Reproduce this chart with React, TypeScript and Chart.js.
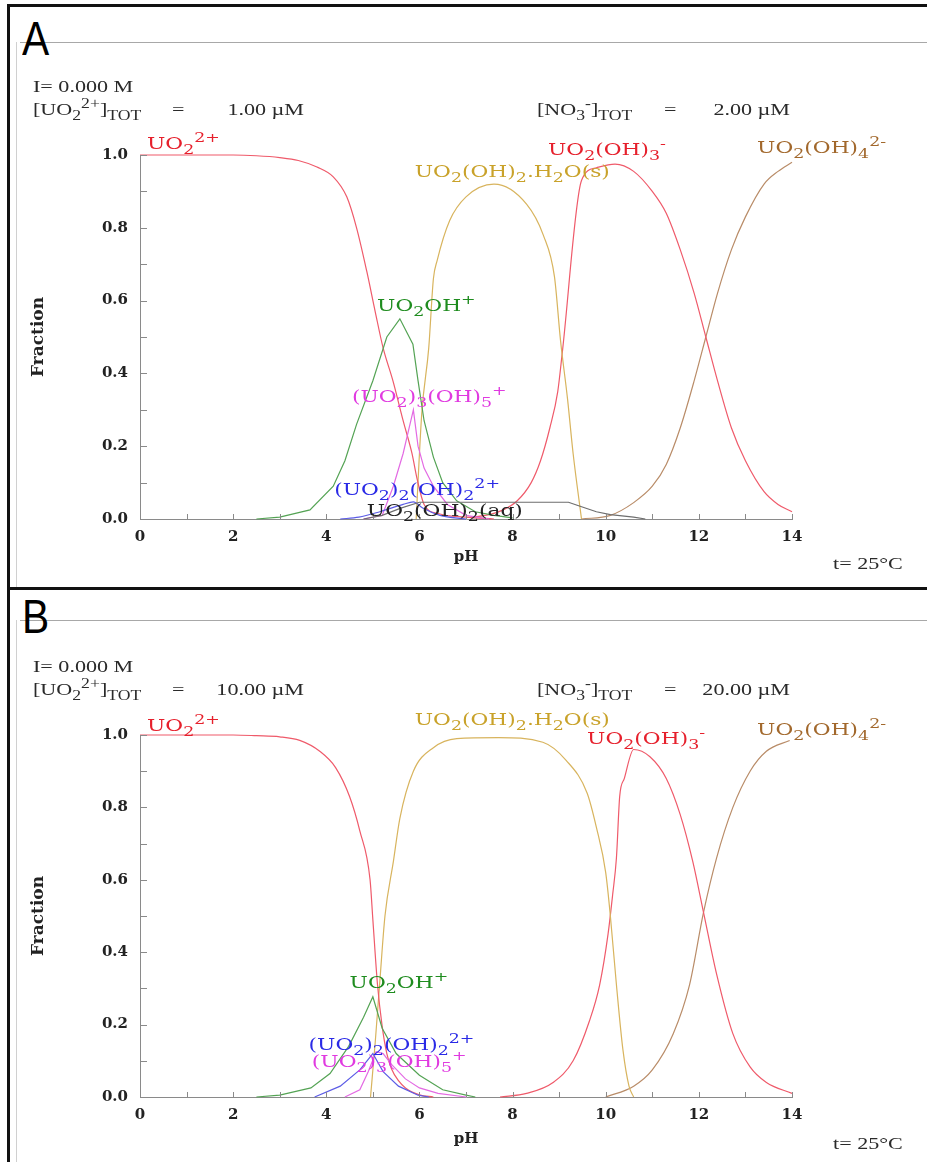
import React, { useEffect, useRef } from 'react';
import { Chart, registerables } from 'chart.js';
Chart.register(...registerables);

// ---------------- DATA (pH -> fraction) ----------------
// Panel A: [UO2]tot = 1 µM
const A_UO2_PH = [0, 1, 2, 2.5, 3, 3.4, 3.8, 4.15, 4.44, 4.65, 4.87, 5.05, 5.22, 5.43, 5.65, 5.84, 5.95, 6.1, 6.4, 7.0, 7.6];
const A_UO2_F = [1, 1, 1, 0.998, 0.993, 0.985, 0.967, 0.94, 0.885, 0.8, 0.68, 0.57, 0.47, 0.38, 0.27, 0.18, 0.11, 0.04, 0.015, 0.005, 0];
const A_OH_PH = [2.5, 3.0, 3.65, 4.15, 4.4, 4.65, 5.0, 5.3, 5.58, 5.86, 5.97, 6.1, 6.3, 6.5, 6.8, 7.2, 7.6, 8.0];
const A_OH_F = [0, 0.005, 0.025, 0.09, 0.16, 0.26, 0.38, 0.5, 0.55, 0.48, 0.38, 0.27, 0.17, 0.1, 0.05, 0.02, 0.01, 0.003];
const A_U3_PH = [4.8, 5.2, 5.44, 5.65, 5.76, 5.87, 5.97, 6.1, 6.3, 6.6, 7.0, 7.5];
const A_U3_F = [0, 0.01, 0.09, 0.18, 0.24, 0.3, 0.2, 0.14, 0.09, 0.04, 0.01, 0];
const A_U2_PH = [4.3, 4.7, 5.15, 5.65, 5.87, 6.07, 6.44, 7.0];
const A_U2_F = [0, 0.005, 0.02, 0.04, 0.047, 0.03, 0.01, 0];
const A_AQ_PH = [4.8, 5.2, 5.6, 6.0, 9.2, 9.45, 9.8, 10.1, 10.6, 10.85];
const A_AQ_F = [0, 0.01, 0.03, 0.046, 0.046, 0.035, 0.02, 0.012, 0.005, 0];
const A_S_PH = [5.93, 6.05, 6.2, 6.3, 6.38, 6.65, 7.0, 7.6, 8.3, 8.66, 8.9, 9.03, 9.18, 9.3, 9.48];
const A_S_F = [0, 0.29, 0.47, 0.66, 0.71, 0.82, 0.885, 0.92, 0.865, 0.78, 0.665, 0.49, 0.33, 0.18, 0];
const A_T3_PH = [7.0, 7.5, 7.8, 8.1, 8.4, 8.6, 8.8, 8.97, 9.07, 9.48, 9.8, 10.2, 10.6, 11.0, 11.3, 11.6, 11.9, 12.15, 12.4, 12.7, 13.0, 13.4, 13.7, 14.0];
const A_T3_F = [0.004, 0.012, 0.025, 0.05, 0.1, 0.16, 0.25, 0.35, 0.46, 0.93, 0.965, 0.975, 0.955, 0.9, 0.84, 0.74, 0.62, 0.5, 0.38, 0.25, 0.16, 0.075, 0.04, 0.02];
const A_T4_PH = [9.48, 10.1, 10.6, 11.0, 11.3, 11.6, 11.9, 12.15, 12.4, 12.7, 13.0, 13.4, 13.7, 14.0];
const A_T4_F = [0, 0.01, 0.045, 0.09, 0.15, 0.25, 0.38, 0.5, 0.62, 0.74, 0.83, 0.92, 0.955, 0.98];

// Panel B: [UO2]tot = 10 µM
const B_UO2_PH = [0, 1, 2, 2.5, 3, 3.43, 3.86, 4.2, 4.5, 4.72, 4.94, 5.0, 5.1, 5.2, 5.3, 5.4, 5.55, 5.7, 6.0, 6.3];
const B_UO2_F = [1, 1, 1, 0.998, 0.995, 0.985, 0.955, 0.91, 0.83, 0.735, 0.6, 0.49, 0.31, 0.195, 0.12, 0.078, 0.045, 0.025, 0.006, 0];
const B_OH_PH = [2.5, 3.0, 3.67, 4.08, 4.48, 4.8, 5.0, 5.2, 5.5, 6.0, 6.5, 7.0, 7.2];
const B_OH_F = [0, 0.005, 0.025, 0.065, 0.14, 0.22, 0.277, 0.19, 0.12, 0.06, 0.02, 0.005, 0];
const B_U2_PH = [3.75, 4.3, 4.72, 5.0, 5.22, 5.55, 5.97, 6.2];
const B_U2_F = [0, 0.03, 0.075, 0.12, 0.07, 0.03, 0.005, 0];
const B_U3_PH = [4.4, 4.72, 4.9, 5.07, 5.22, 5.4, 5.7, 6.0, 6.4, 7.0];
const B_U3_F = [0, 0.02, 0.07, 0.125, 0.12, 0.09, 0.05, 0.025, 0.01, 0];
const B_S_PH = [4.95, 5.05, 5.15, 5.26, 5.44, 5.58, 5.87, 6.3, 6.8, 7.7, 8.65, 9.15, 9.6, 9.8, 10.0, 10.1, 10.23, 10.37, 10.5, 10.6];
const B_S_F = [0, 0.15, 0.32, 0.5, 0.65, 0.77, 0.9, 0.965, 0.99, 0.993, 0.98, 0.93, 0.84, 0.745, 0.62, 0.5, 0.31, 0.13, 0.03, 0];
const B_T3_PH = [7.73, 8.3, 8.87, 9.3, 9.65, 9.87, 10.05, 10.15, 10.23, 10.3, 10.4, 10.6, 10.95, 11.3, 11.6, 11.87, 12.1, 12.38, 12.73, 13.1, 13.45, 14.0];
const B_T3_F = [0, 0.01, 0.04, 0.1, 0.21, 0.31, 0.45, 0.56, 0.66, 0.83, 0.88, 0.96, 0.94, 0.88, 0.78, 0.65, 0.51, 0.34, 0.175, 0.083, 0.04, 0.01];
const B_T4_PH = [10.0, 10.6, 11.0, 11.45, 11.8, 12.1, 12.38, 12.73, 13.1, 13.45, 13.95];
const B_T4_F = [0, 0.03, 0.075, 0.175, 0.31, 0.51, 0.66, 0.8, 0.9, 0.955, 0.985];

// Tick labels
const X_TICK_VALUES = [0, 2, 4, 6, 8, 10, 12, 14];
const X_TICK_LABELS = ['0', '2', '4', '6', '8', '10', '12', '14'];
const Y_TICK_LABELS = ['0.0', '0.2', '0.4', '0.6', '0.8', '1.0'];

// Species label texts (markup: _{sub} ^{sup}) and anchors (pH, fraction)
const SP_UO2 = 'UO_{2}^{2+}';
const SP_SOLID = 'UO_{2}(OH)_{2}.H_{2}O(s)';
const SP_T3 = 'UO_{2}(OH)_{3}^{-}';
const SP_T4 = 'UO_{2}(OH)_{4}^{2-}';
const SP_OH = 'UO_{2}OH^{+}';
const SP_U3 = '(UO_{2})_{3}(OH)_{5}^{+}';
const SP_U2 = '(UO_{2})_{2}(OH)_{2}^{2+}';
const SP_AQ = 'UO_{2}(OH)_{2}(aq)';

const A_LABEL_PH = [0.15, 5.9, 8.76, 13.25, 5.09, 4.55, 4.17, 4.87];
const A_LABEL_F = [1.016, 0.94, 1.0, 1.005, 0.571, 0.321, 0.066, 0.008];
const B_LABEL_PH = [0.15, 5.9, 9.6, 13.25, 4.5, 3.62, 3.69];
const B_LABEL_F = [1.011, 1.027, 0.975, 1.0, 0.3, 0.13, 0.083];

// ---------------- STYLE ----------------
const C = {
  redL: '#ef5a6a', redT: '#e6202c',
  greenL: '#54a354', greenT: '#1f8c1f',
  goldL: '#d8b45e', goldT: '#c9a22a',
  brownL: '#b98c68', brownT: '#a2682c',
  pinkL: '#e36ae3', pinkT: '#e03ae0',
  blueL: '#5c5ce6', blueT: '#2a2ae6',
  blackL: '#6e6e6e', blackT: '#222222',
};

type Seg = { t: string; k: 'n' | 'sub' | 'sup' };
function parseRich(s: string): Seg[] {
  const out: Seg[] = [];
  let i = 0;
  let buf = '';
  while (i < s.length) {
    const c = s[i];
    if ((c === '_' || c === '^') && s[i + 1] === '{') {
      if (buf) { out.push({ t: buf, k: 'n' }); buf = ''; }
      const end = s.indexOf('}', i);
      out.push({ t: s.slice(i + 2, end), k: c === '_' ? 'sub' : 'sup' });
      i = end + 1;
    } else { buf += c; i++; }
  }
  if (buf) out.push({ t: buf, k: 'n' });
  return out;
}

type TextStyle = { size: number; family: string; weight: string; color: string; sx: number; subScale: number; subDy: number; supDy: number };

function richWidth(ctx: CanvasRenderingContext2D, s: string, o: TextStyle) {
  let w = 0;
  for (const seg of parseRich(s)) {
    const sz = seg.k === 'n' ? o.size : o.size * o.subScale;
    ctx.font = `${o.weight} ${sz}px ${o.family}`;
    w += ctx.measureText(seg.t).width;
  }
  return w * o.sx;
}

function drawRich(ctx: CanvasRenderingContext2D, s: string, x: number, y: number, o: TextStyle, align: 'left' | 'right' = 'left') {
  ctx.save();
  const w = richWidth(ctx, s, o);
  ctx.translate(align === 'right' ? x - w : x, y);
  ctx.scale(o.sx, 1);
  ctx.fillStyle = o.color;
  ctx.textBaseline = 'alphabetic';
  ctx.textAlign = 'left';
  let cx = 0;
  for (const seg of parseRich(s)) {
    const sz = seg.k === 'n' ? o.size : o.size * o.subScale;
    const dy = seg.k === 'sub' ? o.size * o.subDy : seg.k === 'sup' ? -o.size * o.supDy : 0;
    ctx.font = `${o.weight} ${sz}px ${o.family}`;
    ctx.fillText(seg.t, cx, dy);
    cx += ctx.measureText(seg.t).width;
  }
  ctx.restore();
}

const LABEL_STYLE: Omit<TextStyle, 'color'> = { size: 17, family: '"DejaVu Serif"', weight: 'normal', sx: 1.28, subScale: 0.8, subDy: 0.28, supDy: 0.42 };
const HEAD_STYLE: TextStyle = { size: 17, family: '"Liberation Serif"', weight: 'normal', color: '#2a2a2a', sx: 1.3, subScale: 0.8, subDy: 0.3, supDy: 0.42 };

type Series = { ph: number[]; f: number[]; color: string; smooth: boolean };
type Label = { text: string; color: string };
type Head = { text: string; x: number; y: number; align?: 'left' | 'right' };
type PanelSpec = {
  top: number; height: number; areaTop: number; xAxisH: number; titlePadB: number;
  series: Series[]; labels: Label[]; labelPH: number[]; labelF: number[]; head: Head[];
};

const PANEL_A: PanelSpec = {
  top: 0, height: 590, areaTop: 155, xAxisH: 71, titlePadB: 24,
  series: [
    { ph: A_AQ_PH, f: A_AQ_F, color: C.blackL, smooth: false },
    { ph: A_U2_PH, f: A_U2_F, color: C.blueL, smooth: true },
    { ph: A_U3_PH, f: A_U3_F, color: C.pinkL, smooth: false },
    { ph: A_OH_PH, f: A_OH_F, color: C.greenL, smooth: false },
    { ph: A_UO2_PH, f: A_UO2_F, color: C.redL, smooth: true },
    { ph: A_S_PH, f: A_S_F, color: C.goldL, smooth: true },
    { ph: A_T3_PH, f: A_T3_F, color: C.redL, smooth: true },
    { ph: A_T4_PH, f: A_T4_F, color: C.brownL, smooth: true },
  ],
  labels: [
    { text: SP_UO2, color: C.redT }, { text: SP_SOLID, color: C.goldT }, { text: SP_T3, color: C.redT },
    { text: SP_T4, color: C.brownT }, { text: SP_OH, color: C.greenT }, { text: SP_U3, color: C.pinkT },
    { text: SP_U2, color: C.blueT }, { text: SP_AQ, color: C.blackT },
  ],
  labelPH: A_LABEL_PH, labelF: A_LABEL_F,
  head: [
    { text: 'I= 0.000 M', x: 33, y: 92 },
    { text: '[UO_{2}^{2+}]_{TOT}', x: 33, y: 115 },
    { text: '=', x: 172, y: 115 },
    { text: '1.00 µM', x: 304, y: 115, align: 'right' },
    { text: '[NO_{3}^{-}]_{TOT}', x: 537, y: 115 },
    { text: '=', x: 664, y: 115 },
    { text: '2.00 µM', x: 790, y: 115, align: 'right' },
    { text: 't= 25°C', x: 833, y: 569 },
  ],
};

const PANEL_B: PanelSpec = {
  top: 590, height: 572, areaTop: 145, xAxisH: 65, titlePadB: 14,
  series: [
    { ph: B_U2_PH, f: B_U2_F, color: C.blueL, smooth: false },
    { ph: B_U3_PH, f: B_U3_F, color: C.pinkL, smooth: false },
    { ph: B_OH_PH, f: B_OH_F, color: C.greenL, smooth: false },
    { ph: B_UO2_PH, f: B_UO2_F, color: C.redL, smooth: true },
    { ph: B_S_PH, f: B_S_F, color: C.goldL, smooth: true },
    { ph: B_T3_PH, f: B_T3_F, color: C.redL, smooth: true },
    { ph: B_T4_PH, f: B_T4_F, color: C.brownL, smooth: true },
  ],
  labels: [
    { text: SP_UO2, color: C.redT }, { text: SP_SOLID, color: C.goldT }, { text: SP_T3, color: C.redT },
    { text: SP_T4, color: C.brownT }, { text: SP_OH, color: C.greenT }, { text: SP_U2, color: C.blueT },
    { text: SP_U3, color: C.pinkT },
  ],
  labelPH: B_LABEL_PH, labelF: B_LABEL_F,
  head: [
    { text: 'I= 0.000 M', x: 33, y: 82 },
    { text: '[UO_{2}^{2+}]_{TOT}', x: 33, y: 105 },
    { text: '=', x: 172, y: 105 },
    { text: '10.00 µM', x: 304, y: 105, align: 'right' },
    { text: '[NO_{3}^{-}]_{TOT}', x: 537, y: 105 },
    { text: '=', x: 664, y: 105 },
    { text: '20.00 µM', x: 790, y: 105, align: 'right' },
    { text: 't= 25°C', x: 833, y: 559 },
  ],
};

const TICK_FONT = { family: '"DejaVu Serif"', size: 15, weight: 'bold' as const };
const TITLE_FONT = { family: '"DejaVu Serif"', size: 15, weight: 'bold' as const };
const YTITLE_FONT = { family: '"DejaVu Serif"', size: 17, weight: 'bold' as const };

function makeChart(canvas: HTMLCanvasElement, spec: PanelSpec) {
  const overlay = {
    id: 'overlay',
    afterDraw(chart: any) {
      const ctx: CanvasRenderingContext2D = chart.ctx;
      const xs = chart.scales.x;
      const ys = chart.scales.y;
      const a = chart.chartArea;
      ctx.save();
      ctx.strokeStyle = '#8a8a8a';
      ctx.lineWidth = 1;
      ys.ticks.forEach((t: any) => {
        const y = Math.round(ys.getPixelForValue(t.value)) + 0.5;
        ctx.beginPath(); ctx.moveTo(a.left, y); ctx.lineTo(a.left + 7, y); ctx.stroke();
      });
      xs.ticks.forEach((t: any) => {
        const x = Math.round(xs.getPixelForValue(t.value)) + 0.5;
        ctx.beginPath(); ctx.moveTo(x, a.bottom); ctx.lineTo(x, a.bottom - 5); ctx.stroke();
      });
      spec.labels.forEach((l, i) => {
        drawRich(ctx, l.text, xs.getPixelForValue(spec.labelPH[i]), ys.getPixelForValue(spec.labelF[i]), { ...LABEL_STYLE, color: l.color });
      });
      spec.head.forEach((h) => drawRich(ctx, h.text, h.x, h.y, HEAD_STYLE, h.align || 'left'));
      ctx.restore();
    },
  };

  return new Chart(canvas, {
    type: 'line',
    data: {
      datasets: spec.series.map((s) => ({
        data: s.ph.map((x, i) => ({ x, y: s.f[i] })),
        borderColor: s.color,
        borderWidth: 1.2,
        pointRadius: 0,
        fill: false,
        tension: s.smooth ? 0.4 : 0,
        cubicInterpolationMode: s.smooth ? 'monotone' : 'default',
        clip: 8,
      })) as any,
    },
    options: {
      animation: false,
      responsive: false,
      events: [],
      layout: { padding: { left: 0, top: spec.areaTop, right: 135, bottom: 0 } },
      plugins: { legend: { display: false }, tooltip: { enabled: false } },
      scales: {
        x: {
          type: 'linear', min: 0, max: 14,
          afterFit: (s: any) => { s.height = spec.xAxisH; },
          grid: { display: false, drawTicks: false },
          border: { display: true, color: '#8a8a8a', width: 1 },
          ticks: {
            stepSize: 1, autoSkip: false, maxRotation: 0, padding: 9, color: '#222', font: TICK_FONT,
            callback: (v: any) => { const k = X_TICK_VALUES.indexOf(Math.round(v)); return k >= 0 ? X_TICK_LABELS[k] : ''; },
          },
          title: { display: true, text: 'pH', color: '#222', font: TITLE_FONT, padding: { top: 0, bottom: spec.titlePadB } },
        },
        y: {
          type: 'linear', min: 0, max: 1,
          afterFit: (s: any) => { s.width = 140; },
          grid: { display: false, drawTicks: false },
          border: { display: true, color: '#8a8a8a', width: 1 },
          ticks: {
            stepSize: 0.1, autoSkip: false, padding: 12, color: '#222', font: TICK_FONT,
            callback: (v: any) => { const k = Math.round(v * 10); return k % 2 === 0 ? Y_TICK_LABELS[k / 2] : ''; },
          },
          title: { display: true, text: 'Fraction', color: '#222', font: YTITLE_FONT, padding: { top: 28, bottom: 0 } },
        },
      },
    } as any,
    plugins: [overlay],
  });
}

function PanelChart({ spec }: { spec: PanelSpec }) {
  const ref = useRef<HTMLCanvasElement>(null);
  useEffect(() => {
    const c = makeChart(ref.current as HTMLCanvasElement, spec);
    return () => c.destroy();
  }, [spec]);
  return (
    <canvas
      ref={ref}
      width={927}
      height={spec.height}
      style={{ position: 'absolute', left: 0, top: spec.top, width: 927, height: spec.height, display: 'block' }}
    />
  );
}

function Frame({ top, height, letter, lineY }: { top: number; height: number; letter: string; lineY: number }) {
  return (
    <>
      <div style={{ position: 'absolute', left: 7, top, width: 1000, height, border: '3px solid #111', boxSizing: 'border-box' }} />
      <div style={{ position: 'absolute', left: 20, top: lineY, width: 920, height: 1, background: '#a8a8a8' }} />
      <div style={{ position: 'absolute', left: 16, top: lineY, width: 1, height: top + height - lineY - 3, background: '#d0d0d0' }} />
      <div
        style={{
          position: 'absolute', left: 22, top: lineY - 27, fontFamily: '"Liberation Sans", sans-serif', fontSize: 48,
          lineHeight: '48px', color: '#000', transform: 'scaleX(0.85)', transformOrigin: 'left top',
        }}
      >
        {letter}
      </div>
    </>
  );
}

export default function App() {
  useEffect(() => {
    document.body.style.margin = '0';
  }, []);
  return (
    <div style={{ position: 'fixed', left: 0, top: 0, width: 927, height: 1162, overflow: 'hidden', background: '#fff' }}>
      <Frame top={4} height={586} letter="A" lineY={42} />
      <Frame top={587} height={600} letter="B" lineY={620} />
      <PanelChart spec={PANEL_A} />
      <PanelChart spec={PANEL_B} />
    </div>
  );
}
